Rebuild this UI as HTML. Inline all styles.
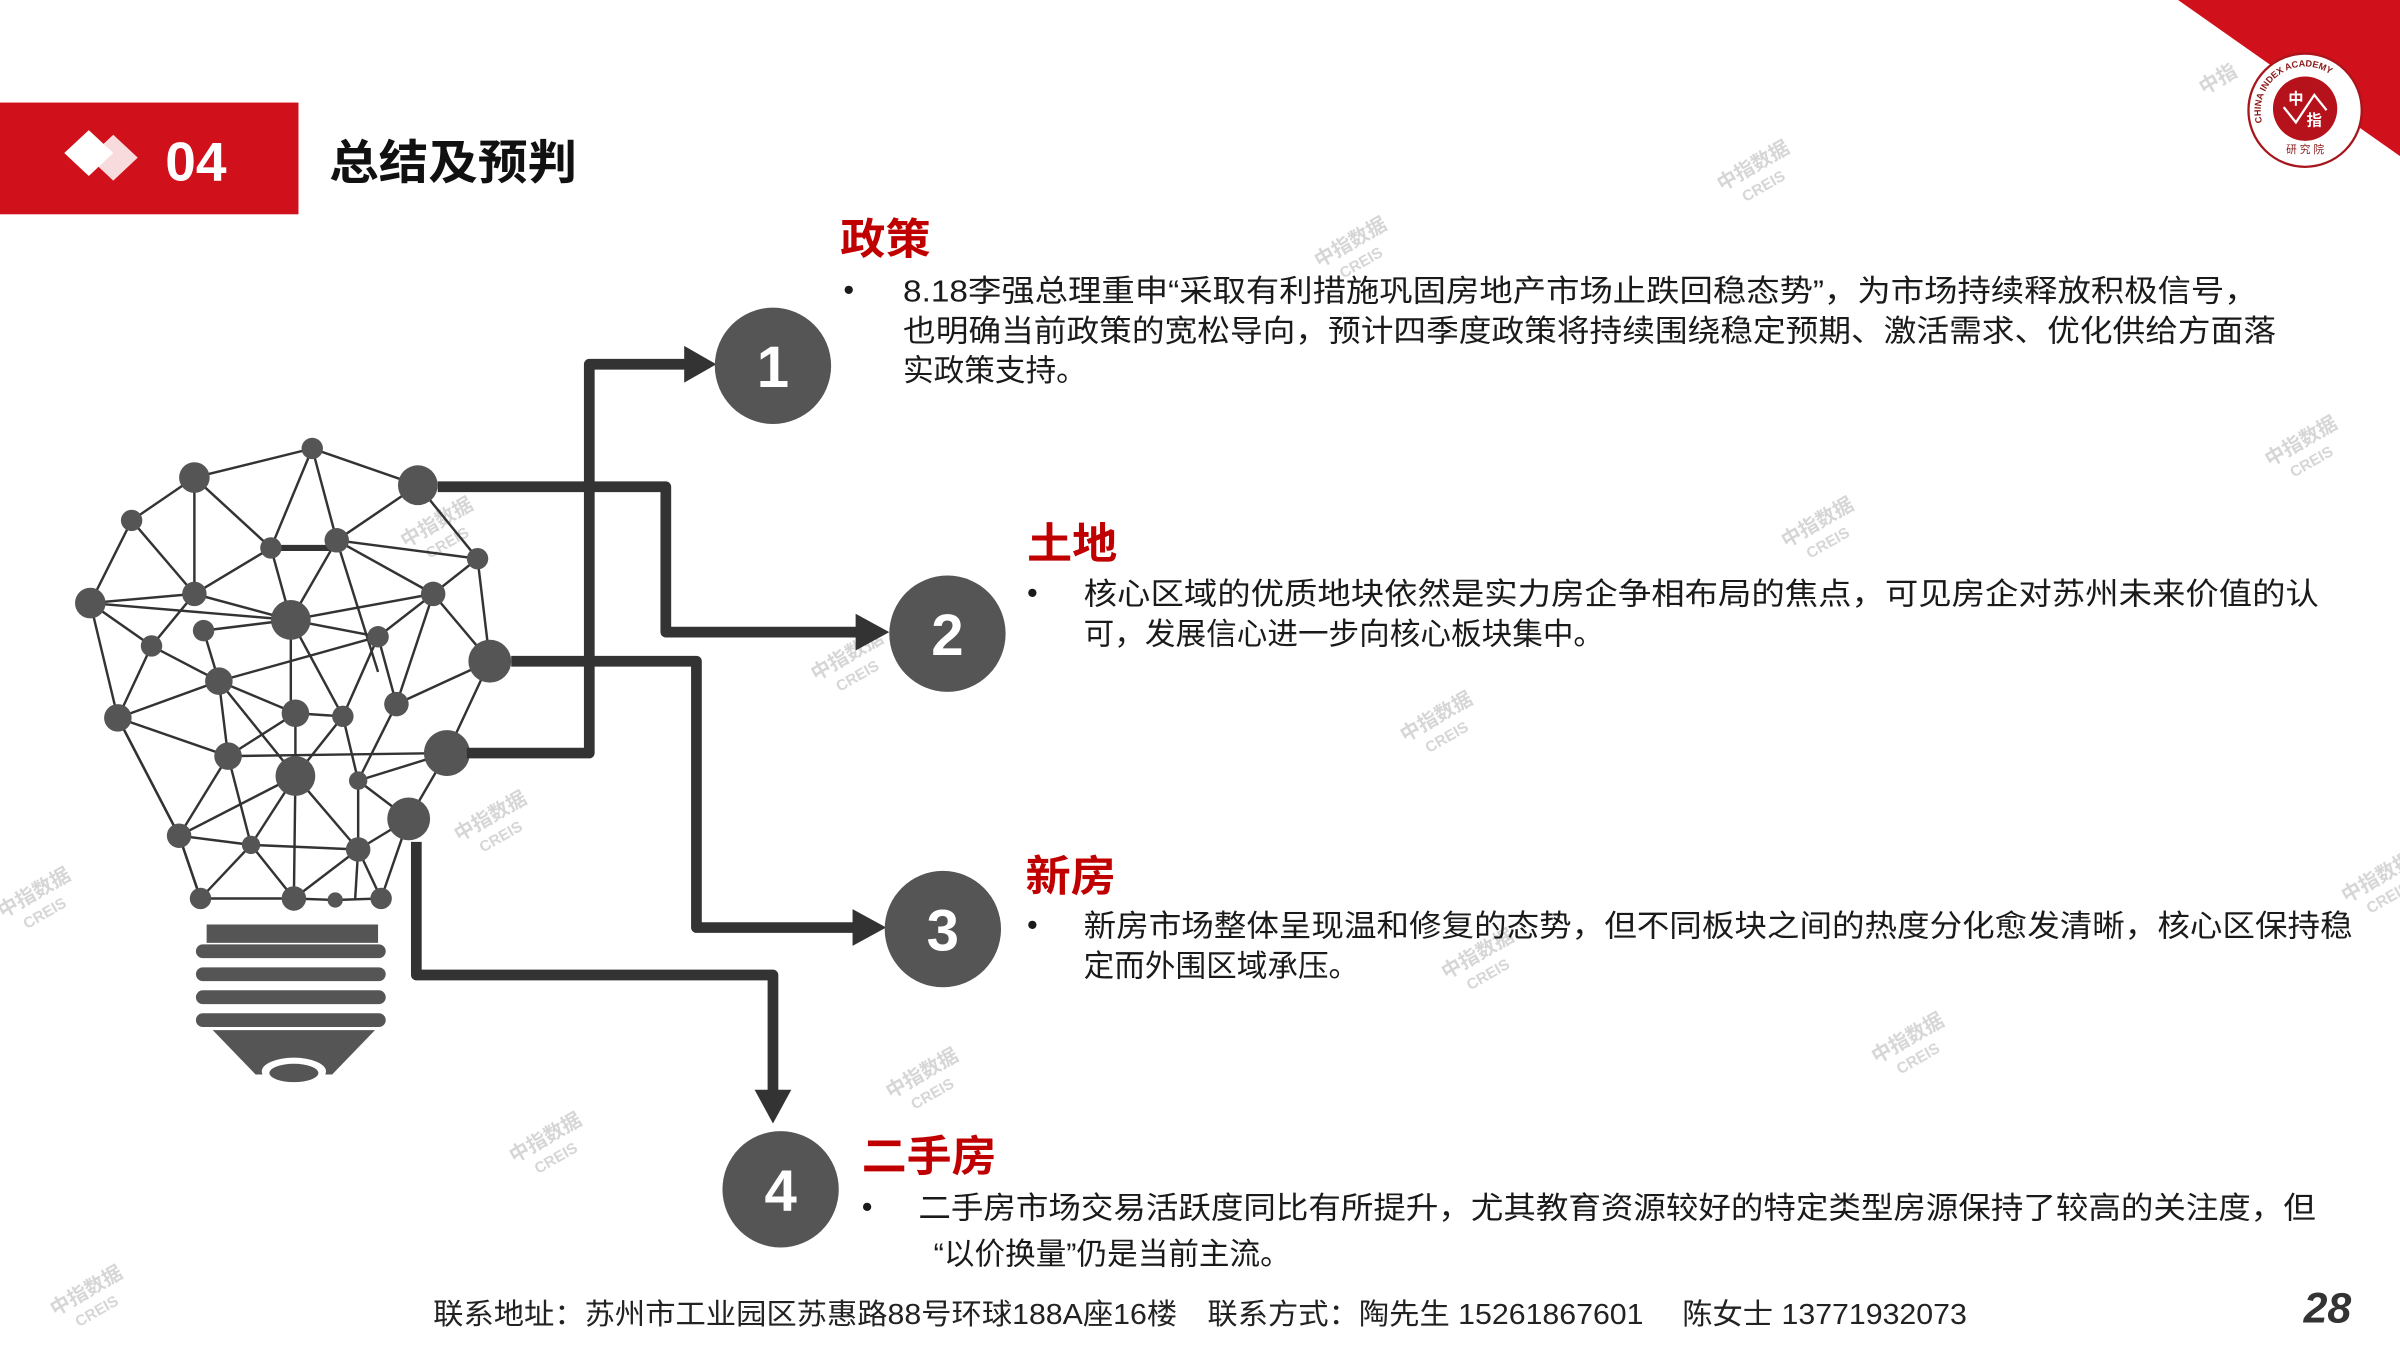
<!DOCTYPE html>
<html><head><meta charset="utf-8"><style>
html,body{margin:0;padding:0;background:#fff;}
svg{display:block;}
text{font-family:"Liberation Sans","Noto Sans CJK SC",sans-serif;}
</style></head><body>
<svg width="2400" height="1350" viewBox="0 0 1568 882" xmlns="http://www.w3.org/2000/svg">
<rect width="1568" height="882" fill="#fff"/>
<!-- top right red corner -->
<polygon points="1423,0 1568,0 1568,102" fill="#d0101b"/>
<circle cx="1506" cy="72" r="37" fill="#fff" stroke="#a8161d" stroke-width="1.5"/>
<circle cx="1506" cy="71" r="21" fill="#b5121b"/>
<polyline points="1492,70 1500,80 1512,62 1520,72" fill="none" stroke="#fff" stroke-width="1.5"/>
<text x="1500" y="68" font-size="10" fill="#fff" text-anchor="middle" font-weight="bold">中</text>
<text x="1512" y="82" font-size="10" fill="#fff" text-anchor="middle" font-weight="bold">指</text>
<path id="arc" d="M1478,80 A29,29 0 1 1 1534,80" fill="none"/>
<text font-size="6" fill="#8a1a1a" font-family="Liberation Serif,serif" font-weight="bold"><textPath href="#arc">CHINA INDEX ACADEMY</textPath></text>
<text x="1506" y="100" font-size="7" fill="#8a1a1a" text-anchor="middle">研 究 院</text>
<!-- header -->
<rect x="0" y="67" width="195" height="73" fill="#d0101b"/>
<polygon points="58,85 74,100 58,115 42,100" fill="#fff"/>
<polygon points="74,88 90,103 74,118 58,103" fill="#fff" opacity="0.85"/>
<text x="108" y="118" font-size="36" font-weight="bold" fill="#fff">04</text>
<text x="215" y="117" font-size="31" font-weight="bold" fill="#111" textLength="162" lengthAdjust="spacingAndGlyphs">总结及预判</text>

<!-- watermarks -->
<g fill="#ccc" font-size="13" font-weight="bold" opacity="0.8">
<g transform="translate(1125,125) rotate(-30)"><text>中指数据</text><text x="10" y="14" font-size="10">CREIS</text></g>
<g transform="translate(862,175) rotate(-30)"><text>中指数据</text><text x="10" y="14" font-size="10">CREIS</text></g>
<g transform="translate(1483,305) rotate(-30)"><text>中指数据</text><text x="10" y="14" font-size="10">CREIS</text></g>
<g transform="translate(1167,358) rotate(-30)"><text>中指数据</text><text x="10" y="14" font-size="10">CREIS</text></g>
<g transform="translate(265,358) rotate(-30)"><text>中指数据</text><text x="10" y="14" font-size="10">CREIS</text></g>
<g transform="translate(533,445) rotate(-30)"><text>中指数据</text><text x="10" y="14" font-size="10">CREIS</text></g>
<g transform="translate(918,485) rotate(-30)"><text>中指数据</text><text x="10" y="14" font-size="10">CREIS</text></g>
<g transform="translate(300,550) rotate(-30)"><text>中指数据</text><text x="10" y="14" font-size="10">CREIS</text></g>
<g transform="translate(2,600) rotate(-30)"><text>中指数据</text><text x="10" y="14" font-size="10">CREIS</text></g>
<g transform="translate(945,640) rotate(-30)"><text>中指数据</text><text x="10" y="14" font-size="10">CREIS</text></g>
<g transform="translate(1226,695) rotate(-30)"><text>中指数据</text><text x="10" y="14" font-size="10">CREIS</text></g>
<g transform="translate(582,718) rotate(-30)"><text>中指数据</text><text x="10" y="14" font-size="10">CREIS</text></g>
<g transform="translate(336,760) rotate(-30)"><text>中指数据</text><text x="10" y="14" font-size="10">CREIS</text></g>
<g transform="translate(36,860) rotate(-30)"><text>中指数据</text><text x="10" y="14" font-size="10">CREIS</text></g>
<g transform="translate(1533,590) rotate(-30)"><text>中指数据</text><text x="10" y="14" font-size="10">CREIS</text></g>
<g transform="translate(1440,62) rotate(-30)"><text>中指</text></g>
</g>

<!-- bulb edges -->
<g stroke="#333" stroke-width="1.6" fill="none">
<polyline points="127,312 204,293 273,317 312,365 320,432 292,492 267,535 249,587 219,588 192,587 131,587 117,546 77,469 59,394 86,340 127,312"/>
<line x1="127" y1="312" x2="127" y2="388"/><line x1="127" y1="312" x2="177" y2="358"/>
<line x1="204" y1="293" x2="177" y2="358"/><line x1="204" y1="293" x2="220" y2="353"/>
<line x1="273" y1="317" x2="220" y2="353"/><line x1="220" y1="353" x2="312" y2="365"/>
<line x1="220" y1="353" x2="283" y2="388"/><line x1="220" y1="353" x2="190" y2="405"/>
<line x1="220" y1="353" x2="247" y2="439"/><line x1="177" y1="358" x2="190" y2="405"/>
<line x1="177" y1="358" x2="127" y2="388"/><line x1="86" y1="340" x2="127" y2="388"/>
<line x1="59" y1="394" x2="127" y2="388"/><line x1="59" y1="394" x2="190" y2="405"/>
<line x1="59" y1="394" x2="99" y2="422"/><line x1="127" y1="388" x2="99" y2="422"/>
<line x1="127" y1="388" x2="190" y2="405"/><line x1="133" y1="412" x2="190" y2="405"/>
<line x1="190" y1="405" x2="283" y2="388"/><line x1="190" y1="405" x2="247" y2="416"/>
<line x1="312" y1="365" x2="283" y2="388"/><line x1="283" y1="388" x2="320" y2="432"/>
<line x1="283" y1="388" x2="259" y2="460"/><line x1="247" y1="416" x2="283" y2="388"/>
<line x1="99" y1="422" x2="143" y2="445"/><line x1="99" y1="422" x2="77" y2="469"/>
<line x1="133" y1="412" x2="143" y2="445"/><line x1="143" y1="445" x2="247" y2="416"/>
<line x1="247" y1="416" x2="224" y2="468"/><line x1="247" y1="416" x2="259" y2="460"/>
<line x1="190" y1="405" x2="190" y2="466"/><line x1="190" y1="405" x2="224" y2="468"/>
<line x1="320" y1="432" x2="259" y2="460"/><line x1="143" y1="445" x2="77" y2="469"/>
<line x1="143" y1="445" x2="193" y2="466"/><line x1="143" y1="445" x2="193" y2="507"/>
<line x1="143" y1="445" x2="149" y2="494"/><line x1="193" y1="466" x2="224" y2="468"/>
<line x1="193" y1="466" x2="149" y2="494"/><line x1="193" y1="466" x2="193" y2="507"/>
<line x1="224" y1="468" x2="234" y2="510"/><line x1="224" y1="468" x2="193" y2="507"/>
<line x1="259" y1="460" x2="234" y2="510"/><line x1="77" y1="469" x2="149" y2="494"/>
<line x1="149" y1="494" x2="292" y2="492"/><line x1="234" y1="510" x2="292" y2="492"/>
<line x1="77" y1="469" x2="117" y2="546"/><line x1="149" y1="494" x2="117" y2="546"/>
<line x1="149" y1="494" x2="164" y2="552"/><line x1="193" y1="507" x2="117" y2="546"/>
<line x1="193" y1="507" x2="164" y2="552"/><line x1="193" y1="507" x2="192" y2="587"/>
<line x1="193" y1="507" x2="234" y2="555"/><line x1="234" y1="510" x2="234" y2="555"/>
<line x1="234" y1="510" x2="267" y2="535"/><line x1="234" y1="555" x2="267" y2="535"/>
<line x1="117" y1="546" x2="164" y2="552"/><line x1="164" y1="552" x2="234" y2="555"/>
<line x1="117" y1="546" x2="131" y2="587"/><line x1="164" y1="552" x2="131" y2="587"/>
<line x1="164" y1="552" x2="192" y2="587"/><line x1="234" y1="555" x2="192" y2="587"/>
<line x1="234" y1="555" x2="249" y2="587"/><line x1="234" y1="555" x2="232" y2="588"/>
</g>
<line x1="177" y1="358" x2="220" y2="358" stroke="#333" stroke-width="4"/>
<!-- nodes -->
<g fill="#555">
<circle cx="204" cy="293" r="7"/><circle cx="127" cy="312" r="10"/><circle cx="273" cy="317" r="13"/>
<circle cx="86" cy="340" r="7"/><circle cx="177" cy="358" r="7"/><circle cx="220" cy="353" r="8"/>
<circle cx="312" cy="365" r="7"/><circle cx="127" cy="388" r="8"/><circle cx="59" cy="394" r="10"/>
<circle cx="190" cy="405" r="13"/><circle cx="283" cy="388" r="8"/><circle cx="133" cy="412" r="7"/>
<circle cx="247" cy="416" r="7"/><circle cx="99" cy="422" r="7"/><circle cx="320" cy="432" r="14"/>
<circle cx="143" cy="445" r="9"/><circle cx="259" cy="460" r="8"/><circle cx="77" cy="469" r="9"/>
<circle cx="193" cy="466" r="9"/><circle cx="224" cy="468" r="7"/><circle cx="149" cy="494" r="9"/>
<circle cx="193" cy="507" r="13"/><circle cx="292" cy="492" r="15"/><circle cx="234" cy="510" r="6"/>
<circle cx="267" cy="535" r="14"/><circle cx="117" cy="546" r="8"/><circle cx="164" cy="552" r="6"/>
<circle cx="234" cy="555" r="8"/><circle cx="131" cy="587" r="7"/><circle cx="192" cy="587" r="8"/>
<circle cx="219" cy="588" r="5"/><circle cx="249" cy="587" r="7"/>
</g>
<!-- bulb base -->
<g fill="#555">
<rect x="135" y="604" width="112" height="12"/>
<rect x="128" y="617" width="124" height="9" rx="4.5"/>
<rect x="128" y="632" width="124" height="9" rx="4.5"/>
<rect x="128" y="647" width="124" height="9" rx="4.5"/>
<rect x="128" y="662" width="124" height="9" rx="4.5"/>
<polygon points="139,673 245,673 217,702 167,702"/>
</g>
<ellipse cx="192" cy="700" rx="21" ry="9" fill="#fff"/>
<ellipse cx="192" cy="701" rx="16" ry="6" fill="#555"/>

<!-- connectors -->
<g stroke="#333" stroke-width="7" fill="none" stroke-linejoin="round">
<polyline points="286,318 435,318 435,413 562,413"/>
<polyline points="305,492 385,492 385,238 449,238"/>
<polyline points="334,432 455,432 455,606 560,606"/>
<polyline points="272,550 272,637 505,637 505,715"/>
</g>
<g fill="#333">
<polygon points="447,226 468,238 447,250"/>
<polygon points="559,401 581,413 559,425"/>
<polygon points="557,594 579,606 557,618"/>
<polygon points="493,712 517,712 505,734"/>
</g>
<!-- number circles -->
<g fill="#555">
<circle cx="505" cy="239" r="38"/><circle cx="619" cy="414" r="38"/>
<circle cx="616" cy="607" r="38"/><circle cx="510" cy="777" r="38"/>
</g>
<g fill="#fff" font-size="38" font-weight="bold" text-anchor="middle">
<text x="505" y="253">1</text><text x="619" y="428">2</text>
<text x="616" y="621">3</text><text x="510" y="791">4</text>
</g>

<!-- text blocks -->
<g fill="#c00000" font-size="28" font-weight="bold">
<text x="549" y="166" textLength="59" lengthAdjust="spacingAndGlyphs">政策</text>
<text x="671" y="365" textLength="59" lengthAdjust="spacingAndGlyphs">土地</text>
<text x="670" y="582" textLength="59" lengthAdjust="spacingAndGlyphs">新房</text>
<text x="563" y="765" textLength="88" lengthAdjust="spacingAndGlyphs">二手房</text>
</g>
<g fill="#1a1a1a" font-size="20">
<text x="551" y="196">•</text>
<text x="590" y="197" textLength="885" lengthAdjust="spacingAndGlyphs">8.18李强总理重申“采取有利措施巩固房地产市场止跌回稳态势”，为市场持续释放积极信号，</text>
<text x="590" y="223" textLength="897" lengthAdjust="spacingAndGlyphs">也明确当前政策的宽松导向，预计四季度政策将持续围绕稳定预期、激活需求、优化供给方面落</text>
<text x="590" y="249">实政策支持。</text>
<text x="671" y="394">•</text>
<text x="708" y="395" textLength="807" lengthAdjust="spacingAndGlyphs">核心区域的优质地块依然是实力房企争相布局的焦点，可见房企对苏州未来价值的认</text>
<text x="708" y="421">可，发展信心进一步向核心板块集中。</text>
<text x="671" y="611">•</text>
<text x="708" y="612" textLength="829" lengthAdjust="spacingAndGlyphs">新房市场整体呈现温和修复的态势，但不同板块之间的热度分化愈发清晰，核心区保持稳</text>
<text x="708" y="638">定而外围区域承压。</text>
<text x="563" y="795">•</text>
<text x="600" y="796" textLength="913" lengthAdjust="spacingAndGlyphs">二手房市场交易活跃度同比有所提升，尤其教育资源较好的特定类型房源保持了较高的关注度，但</text>
<text x="610" y="826">“以价换量”仍是当前主流。</text>
</g>
<text x="283" y="865" font-size="19" fill="#222" textLength="1002" lengthAdjust="spacingAndGlyphs">联系地址：苏州市工业园区苏惠路88号环球188A座16楼　联系方式：陶先生 15261867601　 陈女士 13771932073</text>
<text x="1505" y="864" font-size="28" font-weight="bold" font-style="italic" fill="#333">28</text>
</svg>
</body></html>
